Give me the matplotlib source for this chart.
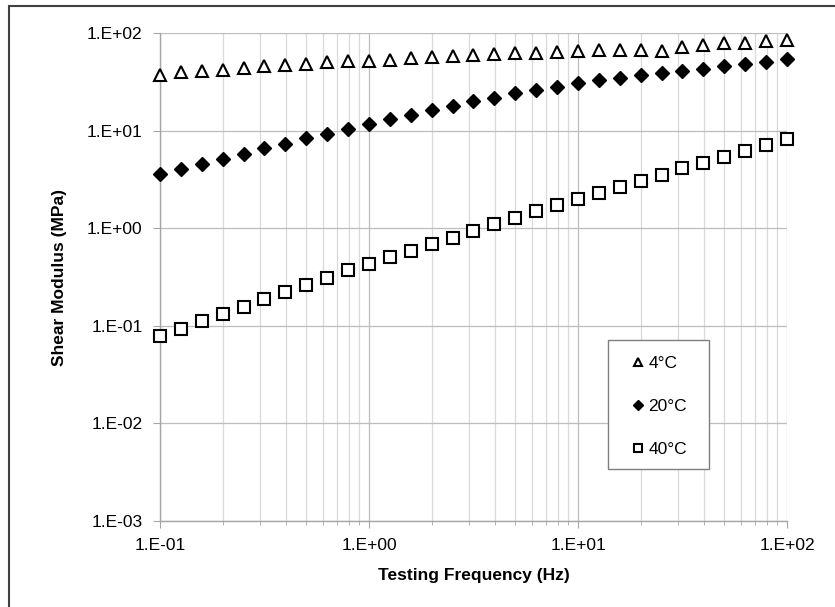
import matplotlib
matplotlib.use("Agg")
import matplotlib.pyplot as plt
from matplotlib.patches import Rectangle
from matplotlib.ticker import LogLocator, NullFormatter, FixedLocator

plt.rcParams['font.family'] = ['Liberation Sans', 'DejaVu Sans']

# Testing frequency (Hz), 10 points per decade
freq = [0.1, 0.126, 0.158, 0.2, 0.251, 0.316, 0.398, 0.501, 0.631, 0.794,
        1.0, 1.26, 1.58, 2.0, 2.51, 3.16, 3.98, 5.01, 6.31, 7.94,
        10.0, 12.6, 15.8, 20.0, 25.1, 31.6, 39.8, 50.1, 63.1, 79.4, 100.0]

# Shear modulus (MPa)
g_4c = [37.4, 39.5, 41.1, 42.1, 43.8, 45.6, 47.4, 48.5, 50.1, 51.3,
        52.1, 53.3, 55.0, 56.4, 57.8, 60.0, 60.5, 61.9, 63.0, 63.9,
        64.9, 66.5, 66.5, 66.5, 65.5, 72.5, 76.0, 78.4, 79.6, 82.2, 85.5]
g_20c = [3.57, 4.05, 4.56, 5.17, 5.82, 6.59, 7.36, 8.41, 9.31, 10.5,
         11.7, 13.2, 14.6, 16.1, 17.9, 20.0, 21.8, 24.1, 26.3, 28.0,
         30.5, 32.8, 34.6, 36.9, 38.9, 41.1, 43.1, 45.9, 48.5, 50.8, 54.2]
g_40c = [0.0778, 0.0932, 0.112, 0.133, 0.157, 0.188, 0.221, 0.263, 0.310, 0.369,
         0.431, 0.509, 0.585, 0.691, 0.796, 0.946, 1.107, 1.276, 1.493, 1.747,
         2.01, 2.32, 2.67, 3.08, 3.54, 4.11, 4.70, 5.42, 6.23, 7.13, 8.15]

labels = ["4°C", "20°C", "40°C"]

W, H = 835, 607
fig = plt.figure(figsize=(W / 100, H / 100), dpi=100)
# plot area in pixels: x 160..787, y 33..521
ax = fig.add_axes([160 / W, 1 - 521 / H, 627 / W, 488 / H])

ax.plot(freq, g_4c, ls='none', marker='^', ms=9, mfc='white', mec='black',
        mew=1.5, label=labels[0], clip_on=False, zorder=3)
ax.plot(freq, g_20c, ls='none', marker='D', ms=7.5, mfc='black', mec='black',
        mew=1, label=labels[1], clip_on=False, zorder=3)
ax.plot(freq, g_40c, ls='none', marker='s', ms=8, mfc='white', mec='black',
        mew=1.5, label=labels[2], clip_on=False, zorder=3)

ax.set_xscale('log')
ax.set_yscale('log')
ax.set_xlim(0.1, 100)
ax.set_ylim(1e-3, 1e2)

xt = [0.1, 1, 10, 100]
yt = [1e-3, 1e-2, 1e-1, 1, 10, 100]
ax.xaxis.set_major_locator(FixedLocator(xt))
ax.set_xticklabels(["1.E-01", "1.E+00", "1.E+01", "1.E+02"])
ax.xaxis.set_minor_locator(LogLocator(base=10, subs=range(2, 10)))
ax.xaxis.set_minor_formatter(NullFormatter())
ax.yaxis.set_major_locator(FixedLocator(yt))
ax.set_yticklabels(["1.E-03", "1.E-02", "1.E-01", "1.E+00", "1.E+01", "1.E+02"])
ax.yaxis.set_minor_locator(FixedLocator([]))

ax.grid(True, which='major', color='#bdbdbd', lw=0.9)
ax.grid(True, which='minor', axis='x', color='#d9d9d9', lw=0.9)
ax.set_axisbelow(True)

for s in ['top', 'right']:
    ax.spines[s].set_visible(False)
for s in ['left', 'bottom']:
    ax.spines[s].set_color('#a6a6a6')
    ax.spines[s].set_linewidth(1)

ax.tick_params(axis='y', which='major', direction='out', length=5,
               color='#a6a6a6', labelsize=12.5, pad=7.5)
ax.tick_params(axis='x', which='major', direction='out', length=5,
               color='#a6a6a6', labelsize=12.5, pad=7)
ax.tick_params(axis='x', which='minor', direction='out', length=3, color='#a6a6a6')

ax.set_xlabel("Testing Frequency (Hz)", fontsize=12.5, fontweight='bold', labelpad=11)
ax.set_ylabel("Shear Modulus (MPa)", fontsize=12.5, fontweight='bold', labelpad=14)

# legend: frame drawn separately, entries placed inside it
leg_box = Rectangle(((608 - 160) / 627, (521 - 469) / 488), 101 / 627, 129 / 488,
                    transform=ax.transAxes, fc='white', ec='#7f7f7f', lw=1,
                    zorder=4)
ax.add_patch(leg_box)
leg = ax.legend(loc='upper left',
                bbox_to_anchor=((627.5 - 160) / 627, (521 - 356) / 488),
                markerscale=0.65, fontsize=12.5, labelspacing=1.61,
                handlelength=1.2, handletextpad=0.0, borderpad=0,
                borderaxespad=0, frameon=False)
leg.set_zorder(5)

# outer chart border (cut off on the right and bottom)
fig.patches.append(Rectangle((9 / W, -0.1), 2, 1 + 0.1 - 6 / H,
                             transform=fig.transFigure, fill=False,
                             ec='#404040', lw=1.5))

fig.savefig("out.png", dpi=100)
